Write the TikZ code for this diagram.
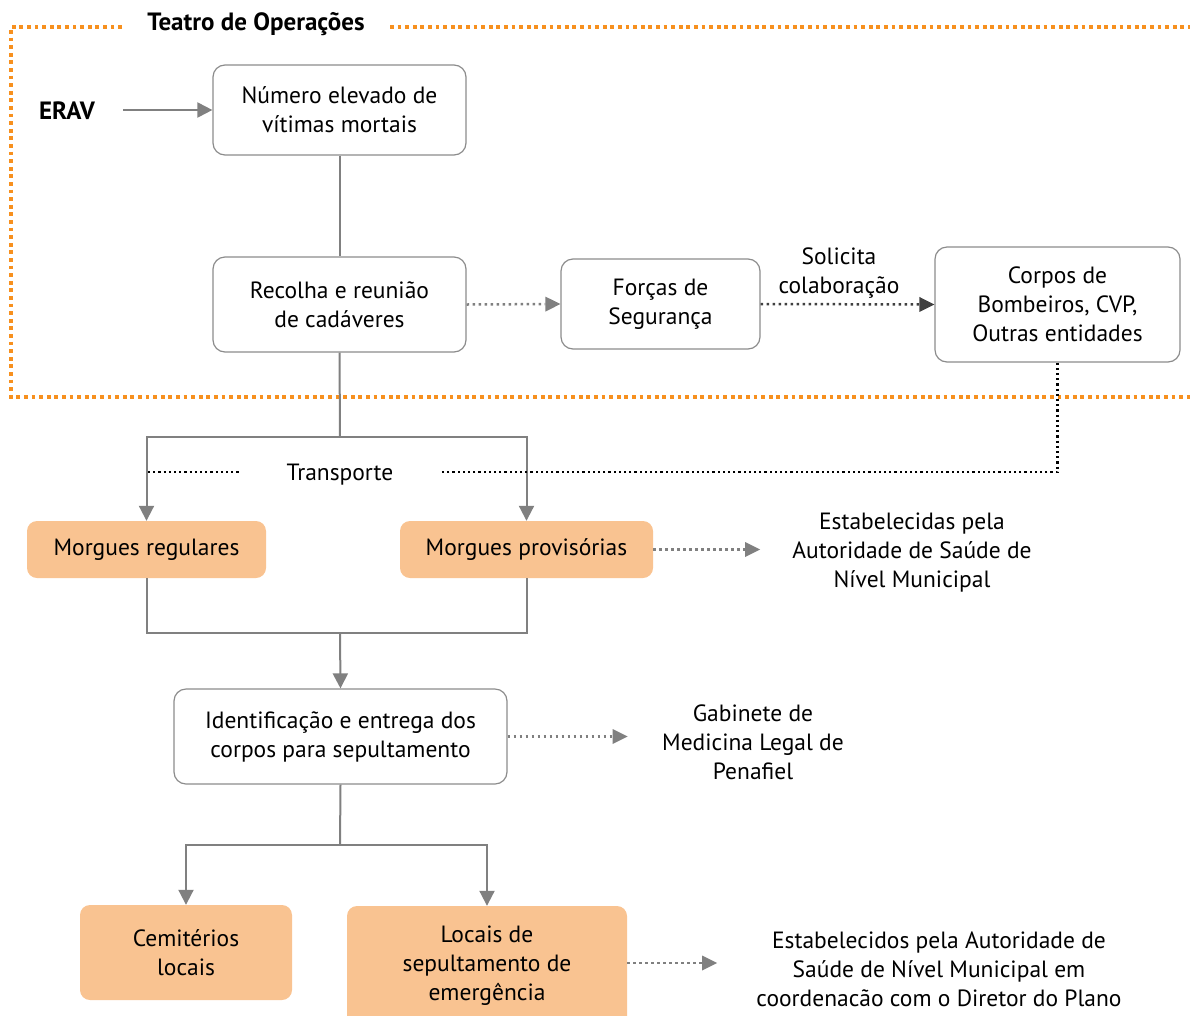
\documentclass[tikz,border=0pt]{standalone}
\usepackage{fontspec}
\setmainfont{PT Sans}
\usetikzlibrary{arrows.meta,calc}
\definecolor{lineg}{HTML}{808080}
\definecolor{boxg}{HTML}{8C8C8C}
\definecolor{frameor}{HTML}{F7901E}
\definecolor{fillor}{HTML}{F9C391}
\definecolor{darkdot}{HTML}{404040}
\tikzset{
  txt/.style={font=\fontsize{23.5}{29}\selectfont, align=center, inner sep=0pt},
  boldtxt/.style={txt, font=\fontsize{25}{29}\selectfont\bfseries},
  flowbox/.style={txt, draw=boxg, line width=1.2pt, rounded corners=12pt, fill=white},
  orbox/.style={txt, fill=fillor, rounded corners=10pt},
  conn/.style={draw=lineg, line width=2pt},
  arr/.style={conn, -{Triangle[length=15pt,width=15pt]}},
  dotarr/.style={draw=lineg, line width=2.5pt, dash pattern=on 2.5pt off 3.5pt,
    -{Triangle[length=15pt,width=15pt,line width=0pt]}},
  darkarr/.style={draw=darkdot, line width=2.5pt, dash pattern=on 2.5pt off 3.5pt,
    -{Triangle[length=15pt,width=15pt,line width=0pt]}},
  blackdot/.style={draw=black, line width=2.2pt, dash pattern=on 2.2pt off 3pt},
  frame/.style={draw=frameor, line width=3.8pt, dash pattern=on 3.8pt off 3.8pt}
}
\begin{document}
\begin{tikzpicture}[x=1pt,y=-1pt]
\useasboundingbox (0,0) rectangle (1190,1015);

% Theatre of operations frame
\draw[frame] (122,27) -- (11,27) -- (11,397) -- (1190,397);
\draw[frame] (390,27) -- (1190,27);
\node[boldtxt] (teatro) at (256,24) {Teatro de Operações};

% Boxes
\node[flowbox, minimum width=253pt, minimum height=90pt] (vitimas) at (339.5,110) {Número elevado de\\vítimas mortais};
\node[boldtxt] (erav) at (67,111) {ERAV};
\coordinate (eravout) at (123,110);
\node[flowbox, minimum width=253pt, minimum height=95pt] (recolha) at (339.5,304.5) {Recolha e reunião\\de cadáveres};
\node[flowbox, minimum width=199pt, minimum height=90pt] (forcas) at (660.5,304) {Forças de\\Segurança};
\node[flowbox, minimum width=245pt, minimum height=115pt] (corpos) at (1057.5,304.5) {Corpos de\\Bombeiros, CVP,\\Outras entidades};
\node[txt] (solicita) at (839,273) {Solicita\\colaboração};

\node[orbox, minimum width=239pt, minimum height=57pt] (mreg) at (146.5,549.5) {Morgues regulares};
\node[orbox, minimum width=253pt, minimum height=57pt] (mprov) at (526.5,549.5) {Morgues provisórias};
\node[txt] (estab1) at (912,553) {Estabelecidas pela\\Autoridade de Saúde de\\Nível Municipal};

\node[txt] (transp) at (340,475) {Transporte};

\node[flowbox, minimum width=333pt, minimum height=95pt] (ident) at (340.5,736.5) {Identificação e entrega dos\\corpos para sepultamento};
\node[txt] (gabinete) at (753,742) {Gabinete de\\Medicina Legal de\\Penafiel};

\node[orbox, minimum width=212pt, minimum height=95pt] (cemit) at (186,952.5) {Cemitérios\\locais};
\node[orbox, minimum width=280pt, minimum height=120pt] (locais) at (487,966) {Locais de\\sepultamento de\\emergência};
\node[txt] (estab2) at (939,969) {Estabelecidos pela Autoridade de\\Saúde de Nível Municipal em\\coordenacão com o Diretor do Plano};

% Connectors
\draw[arr] (eravout) -- (vitimas.west);
\draw[conn] (vitimas.south) -- (recolha.north);
\draw[dotarr] (recolha.east) -- (forcas.west);
\draw[darkarr] (forcas.east) -- (corpos.west);

\coordinate (split1) at (340,437);
\draw[conn] (recolha.south) -- (split1);
\draw[arr] (split1) -| (mreg.north);
\draw[arr] (split1) -| (mprov.north);

\coordinate (tleft) at (148,472);
\coordinate (tleftend) at (240,472);
\coordinate (tright) at (440,472);
\draw[blackdot] (tleft) -- (tleftend);
\draw[blackdot] (corpos.south) |- (tright);

\draw[dotarr] (mprov.east) -- ++(107,0) coordinate (estab1in);

\coordinate (join1) at (340,633);
\draw[conn] (mreg.south) |- (join1);
\draw[conn] (mprov.south) |- (join1);
\draw[arr] (join1) -- (ident.north);

\draw[dotarr] (ident.east) -- ++(120,0) coordinate (gabin);

\coordinate (split2) at (340,845);
\draw[conn] (ident.south) -- (split2);
\draw[arr] (split2) -| (cemit.north);
\draw[arr] (split2) -| (locais.north);

\draw[dotarr] (locais.east |- 0,963) -- ++(90,0) coordinate (estab2in);
\end{tikzpicture}
\end{document}
